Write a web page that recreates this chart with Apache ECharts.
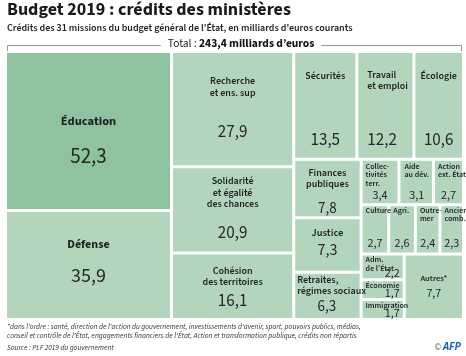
<!DOCTYPE html>
<html><head><meta charset="utf-8">
<script src="https://cdn.jsdelivr.net/npm/echarts/dist/echarts.min.js"></script>
<style>html,body{margin:0;padding:0;background:#fff}#c{width:466px;height:356px}</style>
</head><body><div id="c"></div>
<script>
// ---- data ----
const categories = ['Éducation','Défense','Recherche\net ens. sup','Solidarité\net égalité\ndes chances','Cohésion\ndes territoires','Sécurités','Travail\net emploi','Écologie','Finances\npubliques','Justice','Retraites,\nrégimes sociaux','Collec-\ntivités\nterr.','Aide\nau dév.','Action\next. État','Culture','Agri.','Outre-\nmer','Anciens\ncomb.','Adm.\nde l\'État','Économie','Immigration','Autres*'];
const values = [52.3,35.9,27.9,20.9,16.1,13.5,12.2,10.6,7.8,7.3,6.3,3.4,3.1,2.7,2.7,2.6,2.4,2.3,2.2,1.7,1.7,7.7];
const highlighted = ['Éducation'];
const totalValueText = '243,4 milliards d\u2019euros';
const titleText = 'Budget 2019 : crédits des ministères';
const subtitleText = 'Crédits des 31 missions du budget général de l\'État, en milliards d\'euros courants';
const noteLines = ['*dans l\'ordre : santé, direction de l\'action du gouvernement, investissements d\'avenir, sport, pouvoirs publics, médias,',
  'conseil et contrôle de l\'État, engagements financiers de l\'État, Action et transformation publique, crédits non répartis'];
const sourceText = 'Source : PLF 2019 du gouvernement';

// ---- label styling (offsets relative to each cell's top) ----
const F = '"Source Sans 3", "Source Sans Pro", Lato, sans-serif';
const labelLayout = [
  {ny:69,vy:105,ns:12.5,nl:14,vs:21,na:'center',va:'center',nw:'bold'},
  {ny:33,vy:66,ns:12,nl:14,vs:20,na:'center',va:'center',nw:'bold'},
  {ny:29,vy:80,ns:10,nl:12,vs:17,na:'center',va:'center'},
  {ny:14,vy:66,ns:10,nl:11.5,vs:17,na:'center',va:'center'},
  {ny:17,vy:48,ns:10,nl:11.5,vs:17,na:'center',va:'center'},
  {ny:24,vy:88,ns:10,nl:11,vs:17,na:'center',va:'center'},
  {ny:23,vy:88,ns:10,nl:10.5,vs:17,na:'left',va:'left',pl:9},
  {ny:24,vy:88,ns:10,nl:11,vs:17,na:'center',va:'center'},
  {ny:13,vy:49,ns:10,nl:10.5,vs:15,na:'center',va:'center'},
  {ny:14,vy:32,ns:10.5,nl:12,vs:16,na:'center',va:'center'},
  {ny:7,vy:34,ns:10,nl:11,vs:15,na:'left',va:'center',pl:2},
  {ny:6,vy:36,ns:8,nl:8.5,vs:12,na:'left',va:'center'},
  {ny:6,vy:36,ns:8,nl:8.5,vs:12,na:'left',va:'center',pl:4},
  {ny:6,vy:36,ns:8,nl:8.5,vs:12,na:'left',va:'center'},
  {ny:5,vy:38,ns:8,nl:8.5,vs:12,na:'left',va:'center'},
  {ny:5,vy:38,ns:8,nl:8.5,vs:12,na:'left',va:'center'},
  {ny:5,vy:38,ns:8,nl:8.5,vs:12,na:'left',va:'center'},
  {ny:5,vy:38,ns:8,nl:8.5,vs:12,na:'left',va:'center'},
  {ny:5,vy:19,ns:8,nl:8.5,vs:12,na:'left',va:'right'},
  {ny:5,vy:13,ns:8,nl:8.5,vs:12,na:'left',va:'right'},
  {ny:5,vy:13,ns:8,nl:8.5,vs:12,na:'left',va:'right'},
  {ny:24,vy:39,ns:8.5,nl:10,vs:12,na:'center',va:'center'}
];
const DARK = '#8fc29e', LIGHT = '#b3d5bb';

function fmt(v){ return v.toFixed(1).replace('.', ','); }
function makeLabel(i){
  const L = labelLayout[i];
  const lines = categories[i].split('\n');
  const padTop = L.ny - L.nl/2;
  const avail = L.vy - padTop - lines.length*L.nl;
  let valLH = L.vs + 2, gap = avail - valLH/2;
  if (gap < 1) { gap = 0; valLH = Math.max(2*avail, 1); }
  let s = lines.map(t => '{n|' + t + '}').join('\n');
  if (gap > 0) s += '\n{s| }';
  s += '\n{v|' + fmt(values[i]) + '}';
  return {
    show: true, position: 'inside', formatter: s,
    padding: [padTop, 3, -30, L.pl != null ? L.pl : 3],
    overflow: 'none',
    rich: {
      n: {fontFamily: F, fontSize: L.ns, lineHeight: L.nl, fontWeight: L.nw || 600, color: '#1f1f1f', align: L.na},
      s: {fontSize: 1, lineHeight: gap, align: 'center'},
      v: {fontFamily: F, fontSize: L.vs, lineHeight: valLH, color: '#262626', align: L.va}
    }
  };
}

const data = categories.map((c, i) => ({
  name: c, value: values[i],
  itemStyle: {color: highlighted.indexOf(c) >= 0 ? DARK : LIGHT},
  label: makeLabel(i)
}));

const chart = echarts.init(document.getElementById('c'), null, {renderer: 'canvas'});
chart.setOption({
  animation: false,
  series: [{
    type: 'treemap', left: 7, top: 53, width: 455, height: 265,
    roam: false, nodeClick: false, sort: false,
    breadcrumb: {show: false},
    itemStyle: {borderWidth: 0, gapWidth: 3, borderColor: '#fff'},
    levels: [{itemStyle: {borderWidth: 0, gapWidth: 3, borderColor: '#fff'}}],
    emphasis: {disabled: true},
    data: data
  }],
  graphic: [
    {type: 'text', left: 7, top: 2, style: {text: titleText, fontFamily: F, fontSize: 18, fontWeight: 'bold', fill: '#1a1a1a'}},
    {type: 'text', left: 7, top: 24, style: {text: subtitleText, fontFamily: F, fontSize: 10, fontWeight: 600, fill: '#222'}},
    {type: 'line', shape: {x1: 7.5, y1: 45.5, x2: 461.5, y2: 45.5}, style: {stroke: '#999', lineWidth: 1}},
    {type: 'line', shape: {x1: 7.5, y1: 45.5, x2: 7.5, y2: 51}, style: {stroke: '#999', lineWidth: 1}},
    {type: 'line', shape: {x1: 461.5, y1: 45.5, x2: 461.5, y2: 51}, style: {stroke: '#999', lineWidth: 1}},
    {type: 'text', x: 241, y: 44, style: {
      text: '{a|Total : }{b|' + totalValueText + '}', align: 'center', verticalAlign: 'middle',
      backgroundColor: '#fff', padding: [0, 7],
      rich: {a: {fontFamily: F, fontSize: 11.5, fill: '#222'}, b: {fontFamily: F, fontSize: 11.5, fontWeight: 'bold', fill: '#111'}}
    }},
    {type: 'text', x: 7, y: 327, style: {text: noteLines[0], fontFamily: F, fontSize: 7.4, fontStyle: 'italic', fill: '#333', verticalAlign: 'middle'}},
    {type: 'text', x: 7, y: 336, style: {text: noteLines[1], fontFamily: F, fontSize: 7.4, fontStyle: 'italic', fill: '#333', verticalAlign: 'middle'}},
    {type: 'text', x: 7, y: 348, style: {text: sourceText, fontFamily: F, fontSize: 7.4, fontStyle: 'italic', fill: '#333', verticalAlign: 'middle'}},
    {type: 'text', x: 461, y: 348, style: {
      text: '{c|\u00a9 }{d|AFP}', align: 'right', verticalAlign: 'middle',
      rich: {c: {fontFamily: F, fontSize: 9, fill: '#666'}, d: {fontFamily: F, fontSize: 11, fontWeight: 'bold', fontStyle: 'italic', fill: '#1d5fae'}}
    }}
  ]
});
</script>
</body></html>
